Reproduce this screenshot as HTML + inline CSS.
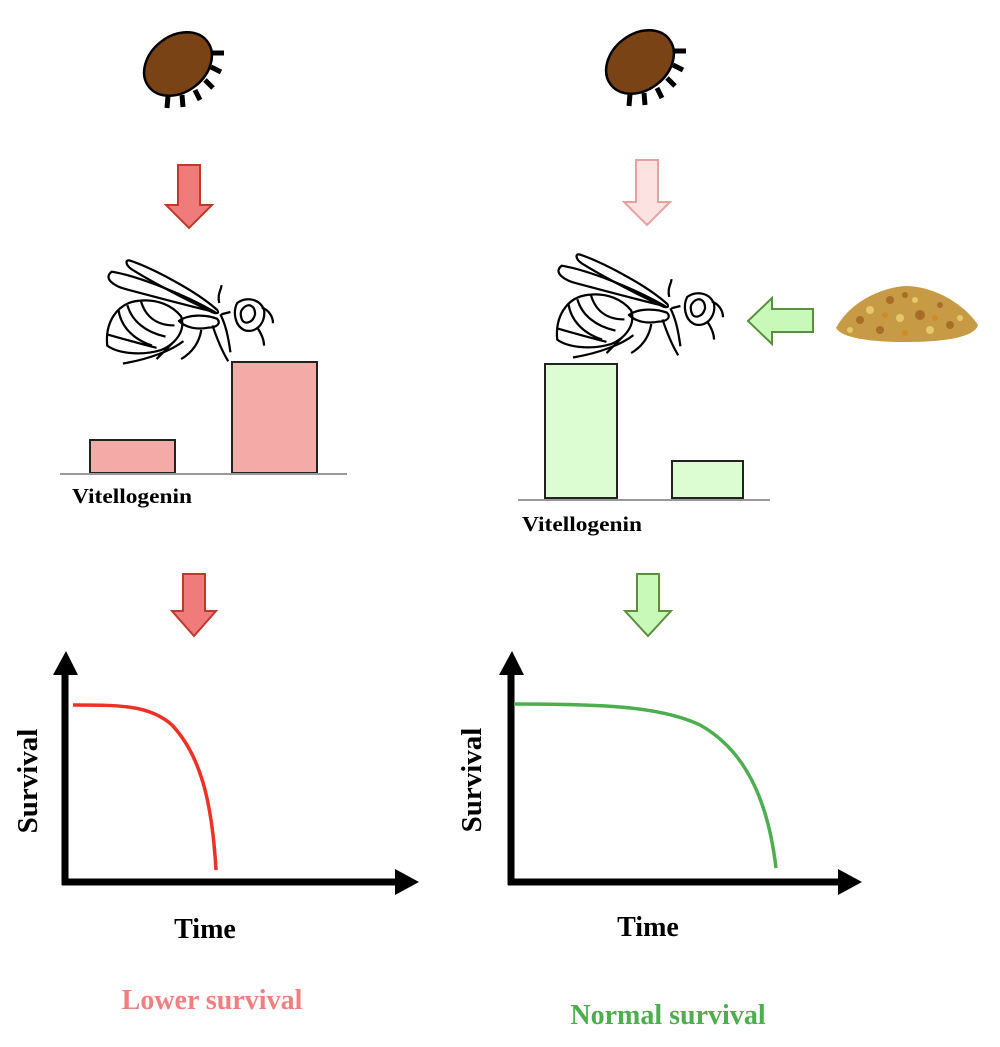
<!DOCTYPE html>
<html><head><meta charset="utf-8"><style>
html,body{margin:0;padding:0;background:#fff}
svg{display:block}
text{font-family:"Liberation Serif",serif;font-weight:bold}
</style></head><body>
<svg width="1000" height="1047" viewBox="0 0 1000 1047" xmlns="http://www.w3.org/2000/svg">
<defs>
<g id="mite">
  <g stroke="#000" stroke-width="5">
    <line x1="34" y1="-11" x2="46" y2="-11"/>
    <line x1="33" y1="3" x2="43" y2="8"/>
    <line x1="27" y1="16" x2="35" y2="24"/>
    <line x1="17" y1="26" x2="22" y2="36"/>
    <line x1="4" y1="31" x2="5" y2="43"/>
    <line x1="-10" y1="32" x2="-11" y2="44"/>
  </g>
  <ellipse cx="0" cy="0" rx="37" ry="28" transform="rotate(-38)" fill="#7a4316" stroke="#000" stroke-width="2.5"/>
</g>
<g id="bee" fill="none" stroke="#000" stroke-width="2" stroke-linejoin="round">
  <path d="M22 4 C40 10 80 30 100 48 C103 52 98 52 92 48 C70 38 40 22 24 12 C18 8 18 3 22 4Z"/>
  <path d="M6 14 C30 18 70 34 98 50 C80 46 50 38 20 30 C8 27 -2 20 6 14Z"/>
  <path d="M30 40 C10 42 0 60 2 80 C10 86 30 90 50 84 C64 78 72 66 68 54 C60 44 46 38 30 40Z"/>
  <path d="M12 48 C14 62 24 74 42 80 M20 44 C24 58 36 68 54 72 M32 40 C36 54 46 62 62 62 M2 70 C16 74 30 78 46 82"/>
  <path d="M66 58 C74 52 90 52 100 56 C104 60 100 64 92 64 C82 66 72 64 66 58Z"/>
  <path d="M86 66 C84 78 78 86 68 92 M70 76 C60 84 40 92 16 96 M60 78 L46 92"/>
  <path d="M103 52 C108 62 110 72 112 86 M96 62 C100 74 104 84 110 94 M104 52 L112 50"/>
  <path d="M118 42 C126 36 138 38 142 48 C144 60 134 70 124 66 C116 62 114 50 118 42Z"/>
  <path d="M124 46 C128 42 134 44 134 52 C132 60 124 62 122 56 C120 50 122 48 124 46Z"/>
  <path d="M140 46 C146 48 150 54 150 60 M136 64 C140 70 142 76 142 80"/>
  <path d="M102 42 C100 34 104 30 104 26"/>
</g>
</defs>

<!-- mites -->
<use href="#mite" x="178" y="64"/>
<use href="#mite" x="640" y="62"/>

<!-- top arrows -->
<path d="M178 165 H200 V205 H212 L189 228 L166 205 H178 Z" fill="#ef7b7b" stroke="#c0392b" stroke-width="2"/>
<path d="M636 160 H658 V202 H670 L647 225 L624 202 H636 Z" fill="#fde2e2" stroke="#e8a0a0" stroke-width="2"/>

<!-- bees -->
<g transform="translate(105,256) scale(1.12)"><use href="#bee"/></g>
<g transform="translate(555,250) scale(1.12)"><use href="#bee"/></g>

<!-- left bars -->
<rect x="90" y="440" width="85" height="33" fill="#f4aba8" stroke="#222" stroke-width="2"/>
<rect x="232" y="362" width="85" height="111" fill="#f4aba8" stroke="#222" stroke-width="2"/>
<line x1="60" y1="474" x2="347" y2="474" stroke="#999" stroke-width="2"/>
<text x="72" y="503" font-size="21" textLength="120" lengthAdjust="spacingAndGlyphs">Vitellogenin</text>

<!-- right bars -->
<rect x="545" y="364" width="72" height="134" fill="#dcfcd2" stroke="#222" stroke-width="2"/>
<rect x="672" y="461" width="71" height="37" fill="#dcfcd2" stroke="#222" stroke-width="2"/>
<line x1="518" y1="500" x2="770" y2="500" stroke="#999" stroke-width="2"/>
<text x="522" y="531" font-size="21" textLength="120" lengthAdjust="spacingAndGlyphs">Vitellogenin</text>

<!-- green left arrow -->
<path d="M813 309 V332 H772 V344 L748 321 L772 298 V309 Z" fill="#c9f9b8" stroke="#5a8f3c" stroke-width="2"/>

<!-- pollen -->
<g>
  <path d="M836 328 C850 302 880 288 905 286 C935 286 965 305 978 325 C975 336 950 342 905 342 C870 342 842 338 836 328Z" fill="#c79a45"/>
  <g fill="#a86d28"><circle cx="860" cy="320" r="4"/><circle cx="890" cy="300" r="4"/><circle cx="920" cy="315" r="5"/><circle cx="950" cy="325" r="4"/><circle cx="880" cy="330" r="4"/><circle cx="905" cy="295" r="3"/><circle cx="940" cy="305" r="3"/></g>
  <g fill="#e6c86a"><circle cx="870" cy="310" r="4"/><circle cx="900" cy="318" r="4"/><circle cx="930" cy="330" r="4"/><circle cx="915" cy="300" r="3"/><circle cx="960" cy="318" r="3"/><circle cx="850" cy="330" r="3"/></g>
  <g fill="#d08a2a"><circle cx="885" cy="315" r="3"/><circle cx="935" cy="318" r="3"/><circle cx="905" cy="333" r="3"/></g>
</g>

<!-- middle arrows -->
<path d="M183 574 H205 V611 H216 L194 636 L172 611 H183 Z" fill="#ef7b7b" stroke="#c0392b" stroke-width="2"/>
<path d="M637 574 H659 V611 H671 L648 636 L625 611 H637 Z" fill="#c9f9b8" stroke="#5a8f3c" stroke-width="2"/>

<!-- left plot -->
<line x1="65" y1="885" x2="65" y2="672" stroke="#000" stroke-width="7"/>
<path d="M53 675 L66 651 L78 675 Z" fill="#000"/>
<line x1="62" y1="882" x2="397" y2="882" stroke="#000" stroke-width="7"/>
<path d="M395 869 L419 882 L395 895 Z" fill="#000"/>
<path d="M73 705 C120 705 150 705 172 725 C200 755 212 800 216 870" fill="none" stroke="#ee3124" stroke-width="3.5"/>
<text transform="translate(37,781) rotate(-90)" font-size="29" text-anchor="middle">Survival</text>
<text x="205" y="938" font-size="28" text-anchor="middle">Time</text>
<text x="212" y="1009" font-size="28" text-anchor="middle" fill="#f08080">Lower survival</text>

<!-- right plot -->
<line x1="511" y1="885" x2="511" y2="672" stroke="#000" stroke-width="7"/>
<path d="M499 675 L512 651 L524 675 Z" fill="#000"/>
<line x1="508" y1="882" x2="840" y2="882" stroke="#000" stroke-width="7"/>
<path d="M838 869 L862 882 L838 895 Z" fill="#000"/>
<path d="M514 704 C600 704 660 706 700 725 C745 750 768 800 776 868" fill="none" stroke="#4cae4f" stroke-width="3.5"/>
<text transform="translate(481,780) rotate(-90)" font-size="29" text-anchor="middle">Survival</text>
<text x="648" y="936" font-size="28" text-anchor="middle">Time</text>
<text x="668" y="1024" font-size="28" text-anchor="middle" fill="#4cae4f">Normal survival</text>
</svg>
</body></html>
